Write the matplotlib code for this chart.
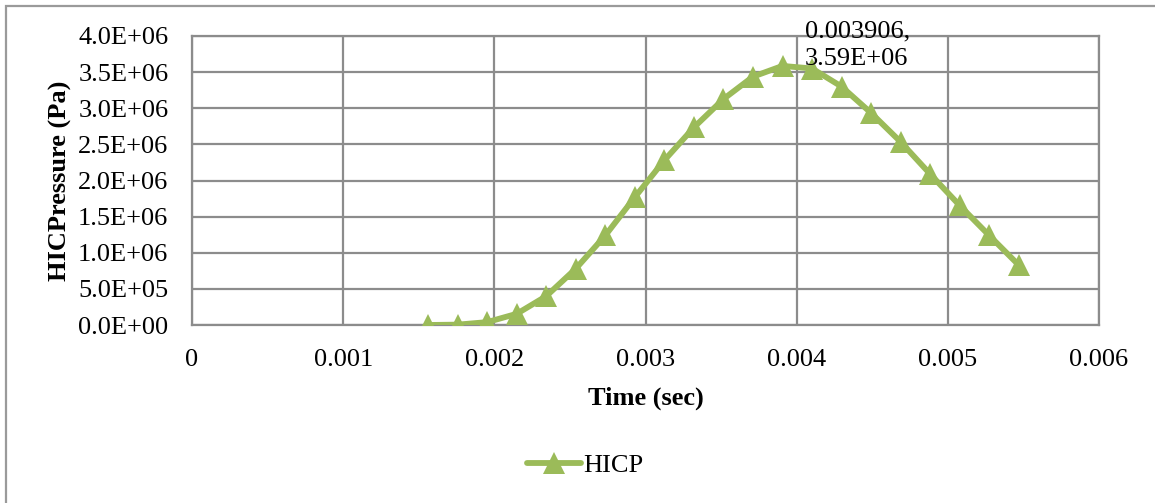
import matplotlib
matplotlib.use("Agg")
import matplotlib.pyplot as plt
from matplotlib.ticker import FuncFormatter, MultipleLocator
from matplotlib.patches import Rectangle

# time step index k * dt (Excel series), pressures
time_sec = [0.0015625, 0.0017578, 0.0019531, 0.0021484, 0.0023438, 0.0025391,
            0.0027344, 0.0029297, 0.0031250, 0.0033203, 0.0035156, 0.0037109,
            0.0039063, 0.0041016, 0.0042969, 0.0044922, 0.0046875, 0.0048828,
            0.0050781, 0.0052734, 0.0054688]
hicp_pa = [0.0, 0.005e6, 0.04e6, 0.155e6, 0.40e6, 0.78e6,
           1.24e6, 1.77e6, 2.28e6, 2.735e6, 3.127e6, 3.437e6,
           3.586e6, 3.55e6, 3.30e6, 2.935e6, 2.535e6, 2.09e6,
           1.655e6, 1.24e6, 0.83e6]

GREEN = "#9BBB59"
GRID = "#8c8c8c"
FS = 19

plt.rcParams["font.family"] = ["Liberation Serif", "DejaVu Serif"]

fig = plt.figure(figsize=(11.55, 5.03), dpi=100)
W, H = 1155, 503
ax = fig.add_axes([192 / W, 1 - 325 / H, (1099 - 192) / W, (325 - 36) / H])

ax.plot(time_sec, hicp_pa, color=GREEN, lw=4.2, marker="^", markersize=15.5,
        markeredgewidth=0, label="HICP", solid_capstyle="round", zorder=3)

ax.set_xlim(0, 0.006)
ax.set_ylim(0, 4.0e6)
ax.xaxis.set_major_locator(MultipleLocator(0.001))
ax.yaxis.set_major_locator(MultipleLocator(0.5e6))
ax.xaxis.set_major_formatter(FuncFormatter(lambda v, p: "0" if abs(v) < 1e-12 else f"{v:.3f}"))
ax.yaxis.set_major_formatter(FuncFormatter(lambda v, p: f"{v:.1E}"))
ax.grid(True, color=GRID, lw=1.6)
ax.tick_params(length=0, labelsize=FS)
ax.tick_params(axis="x", pad=17)
ax.tick_params(axis="y", pad=17)
for s in ax.spines.values():
    s.set_color(GRID)
    s.set_linewidth(1.6)

ax.set_xlabel("Time (sec)", fontsize=FS, fontweight="bold")
ax.set_ylabel("HICPressure (Pa)", fontsize=FS, fontweight="bold")
ax.xaxis.set_label_coords(0.5, -(387 - 325) / 289)
ax.yaxis.set_label_coords((72 - 192) / 907, 0.5)

# peak label
ax.annotate("0.003906,\n3.59E+06", xy=(time_sec[12], hicp_pa[12]),
            xytext=(805, 503 - 65), textcoords="figure pixels",
            ha="left", va="baseline", fontsize=FS, linespacing=1.35)

ax.legend(loc="center", bbox_to_anchor=(585 / W, 1 - 465 / H),
          bbox_transform=fig.transFigure, frameon=False, fontsize=FS,
          handlelength=2.05, handletextpad=0.1)

# outer chart frame
fig.add_artist(Rectangle((6 / W, -0.05), 1.2, 1 - 6 / H + 0.05,
                         transform=fig.transFigure, fill=False,
                         edgecolor="#9a9a9a", lw=1.6))

fig.savefig("out.png", dpi=100)
